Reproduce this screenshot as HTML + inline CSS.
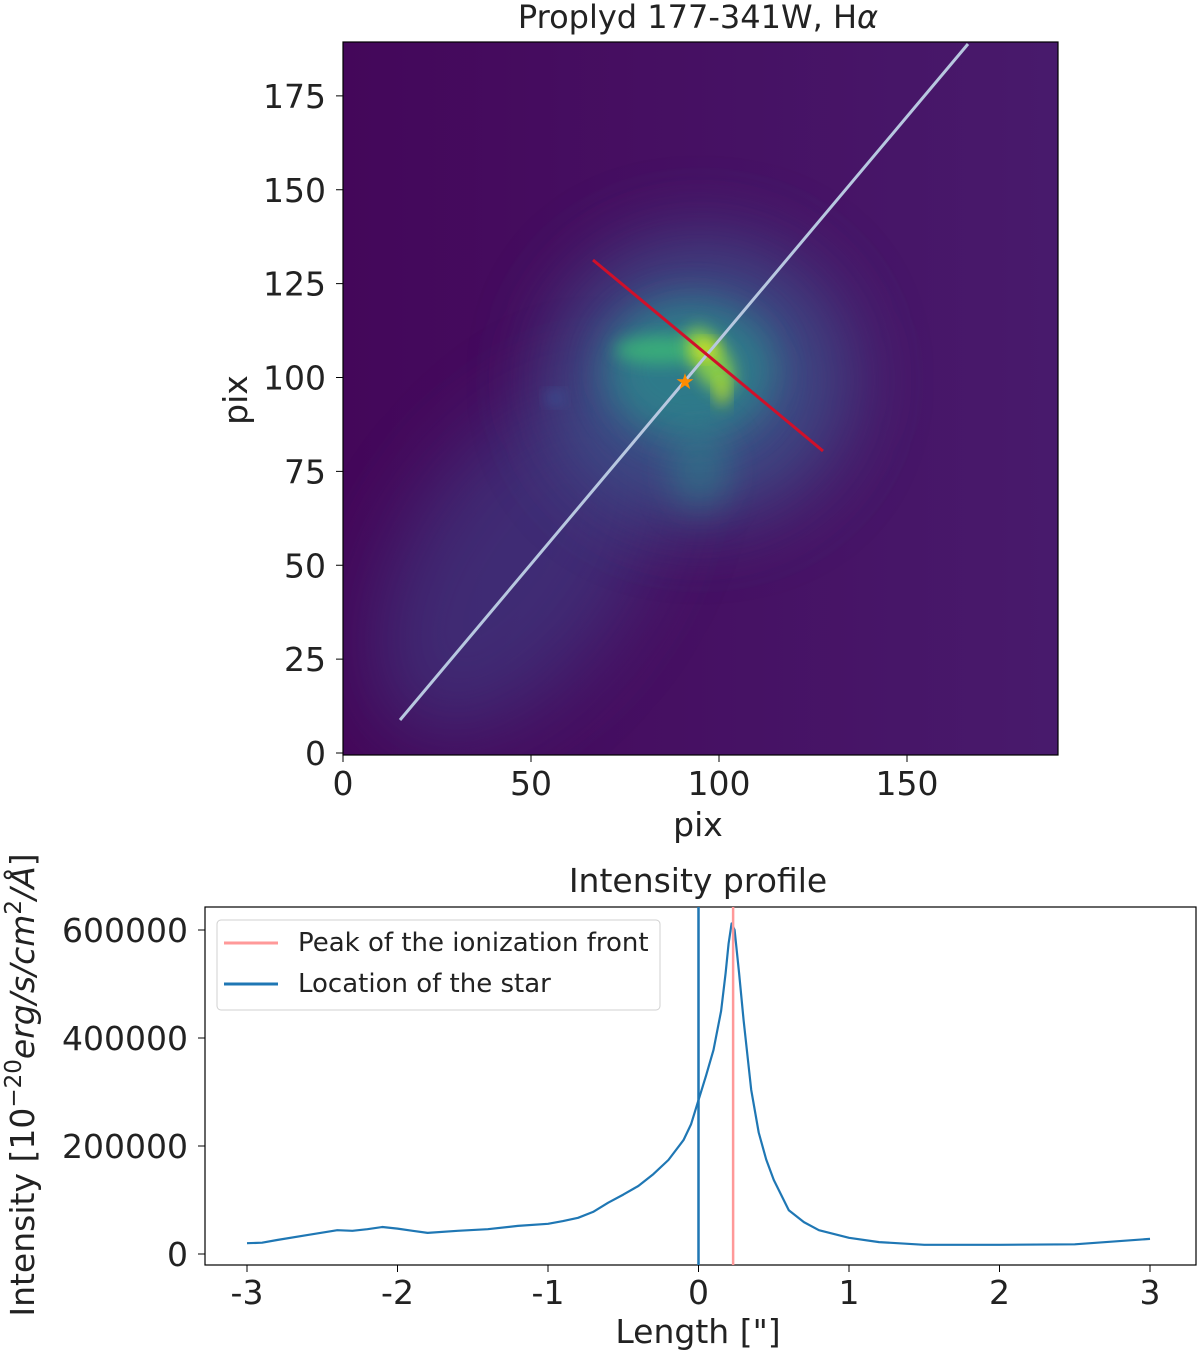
<!DOCTYPE html>
<html><head><meta charset="utf-8"><style>
body{margin:0;background:#fff;font-family:"Liberation Sans","DejaVu Sans",sans-serif;}
svg text{font-family:"DejaVu Sans","Liberation Sans",sans-serif;fill:#222;}
</style></head><body>
<svg id="fig" width="1200" height="1354" xmlns="http://www.w3.org/2000/svg">
<defs>
<filter id="b1" x="-50%" y="-50%" width="200%" height="200%"><feGaussianBlur stdDeviation="18"/></filter>
<filter id="b2" x="-50%" y="-50%" width="200%" height="200%"><feGaussianBlur stdDeviation="8"/></filter>
<filter id="b3" x="-50%" y="-50%" width="200%" height="200%"><feGaussianBlur stdDeviation="40"/></filter>
<linearGradient id="bg" x1="0" y1="0" x2="1" y2="0"><stop offset="0" stop-color="#44075a"/><stop offset="1" stop-color="#481a6c"/></linearGradient>
<clipPath id="imclip"><rect x="343" y="42" width="715" height="713"/></clipPath>
</defs>
<text x="698" y="28" font-size="32" text-anchor="middle">Proplyd 177-341W, H<tspan font-style="italic">α</tspan></text>
<g clip-path="url(#imclip)">
<rect x="343" y="42" width="715" height="713" fill="url(#bg)"/>
<ellipse cx="520" cy="560" rx="110" ry="200" transform="rotate(35 520 560)" fill="#3a4b8a" opacity="0.5" filter="url(#b3)"/>
<ellipse cx="700" cy="380" rx="150" ry="140" fill="#3b5a8c" opacity="0.8" filter="url(#b3)"/>
<ellipse cx="690" cy="370" rx="85" ry="70" fill="#2a8a8c" opacity="0.75" filter="url(#b1)"/>
<ellipse cx="700" cy="470" rx="30" ry="40" fill="#2a8a8c" opacity="0.5" filter="url(#b1)"/>
<ellipse cx="660" cy="350" rx="45" ry="14" fill="#3cbc74" opacity="0.75" filter="url(#b2)"/>
<ellipse cx="710" cy="360" rx="18" ry="36" transform="rotate(-30 710 360)" fill="#8fd344" opacity="0.9" filter="url(#b2)"/>
<ellipse cx="705" cy="350" rx="11" ry="8" fill="#e3e418" filter="url(#b2)"/>
<ellipse cx="722" cy="392" rx="6" ry="14" fill="#c2df23" opacity="0.9" filter="url(#b2)"/>
<ellipse cx="555" cy="398" rx="8" ry="6" fill="#3b5a9c" filter="url(#b2)"/>
<polyline points="400,720 968,44" stroke="#b8c8e0" stroke-width="3" fill="none"/>
<polyline points="593,260 823,451" stroke="#d0102a" stroke-width="3" fill="none"/>
<text x="685" y="389" font-size="22" fill="#ff8c00" text-anchor="middle" style="fill:#ff8c00">★</text>
</g>
<rect x="343" y="42" width="715" height="713" fill="none" stroke="#000" stroke-width="1.2"/>
<g id="imaxes" font-size="33"></g>
<text x="698" y="836" font-size="33" text-anchor="middle">pix</text>
<text x="0" y="0" font-size="33" text-anchor="middle" transform="translate(247 400) rotate(-90)">pix</text>

<text x="698" y="892" font-size="33" text-anchor="middle">Intensity profile</text>
<rect x="205" y="907" width="991" height="358" fill="none" stroke="#000" stroke-width="1.2"/>
<g id="plot"></g>
<g>
<rect x="217" y="920" width="443" height="90" rx="4" fill="#fff" stroke="#ccc" opacity="0.9"/>
<line x1="224" y1="943" x2="278" y2="943" stroke="#f99" stroke-width="3"/>
<text x="298" y="951" font-size="26">Peak of the ionization front</text>
<line x1="224" y1="984" x2="278" y2="984" stroke="#1f77b4" stroke-width="3"/>
<text x="298" y="992" font-size="26">Location of the star</text>
</g>
<text x="698" y="1343" font-size="33" text-anchor="middle">Length ["]</text>
<text font-size="33" text-anchor="middle" transform="translate(34 1085) rotate(-90)">Intensity [10<tspan baseline-shift="super" font-size="23">−20</tspan><tspan font-style="italic">erg/s/cm</tspan><tspan baseline-shift="super" font-size="23">2</tspan><tspan font-style="italic">/Å</tspan>]</text>
</svg>
<script>
const imgXTicks=[0,50,100,150];
const imgYTicks=[0,25,50,75,100,125,150,175];
const lengths=[-3,-2.9,-2.8,-2.6,-2.4,-2.3,-2.2,-2.1,-2.0,-1.9,-1.8,-1.6,-1.4,-1.2,-1.0,-0.9,-0.8,-0.7,-0.6,-0.5,-0.4,-0.3,-0.2,-0.1,-0.05,0,0.05,0.1,0.15,0.18,0.2,0.22,0.24,0.27,0.3,0.35,0.4,0.45,0.5,0.6,0.7,0.8,1.0,1.2,1.5,2.0,2.5,3.0];
const intensity=[20000,21000,26000,35000,44000,43000,46000,50000,47000,43000,39000,43000,46000,52000,56000,61000,67000,78000,95000,110000,126000,148000,174000,211000,240000,285000,330000,378000,450000,520000,575000,612000,600000,520000,433000,304000,225000,175000,137000,81000,59000,44000,30000,22000,17000,17000,18000,28000];
const xTicks=[-3,-2,-1,0,1,2,3];
const yTicks=[0,200000,400000,600000];
const starLoc=[0];
const peakLoc=[0.23];
const NS="http://www.w3.org/2000/svg";
function mk(t,a,p){const e=document.createElementNS(NS,t);for(const k in a)e.setAttribute(k,a[k]);p.appendChild(e);return e;}
const ix=v=>343+v*3.76, iy=v=>753-v*3.755;
const ia=document.getElementById('imaxes');
imgXTicks.forEach(v=>{const l=mk('line',{x1:ix(v),x2:ix(v),y1:755,y2:762,stroke:'#000'},ia);

const t=mk('text',{x:ix(v),y:795,'text-anchor':'middle'},ia);t.textContent=v;
});
imgYTicks.forEach(v=>{const l=mk('line',{x1:336,x2:343,y1:iy(v),y2:iy(v),stroke:'#000'},ia);

const t=mk('text',{x:326,y:iy(v)+12,'text-anchor':'end'},ia);t.textContent=v;
});
const px=v=>247+(v+3)*150.5, py=v=>1254-v*324/600000;
const g=document.getElementById('plot');g.setAttribute('font-size','33');
xTicks.forEach(v=>{const l=mk('line',{x1:px(v),x2:px(v),y1:1265,y2:1272,stroke:'#000'},g);

const t=mk('text',{x:px(v),y:1304,'text-anchor':'middle'},g);t.textContent=v;
});
yTicks.forEach(v=>{const l=mk('line',{x1:198,x2:205,y1:py(v),y2:py(v),stroke:'#000'},g);

const t=mk('text',{x:188,y:py(v)+12,'text-anchor':'end'},g);t.textContent=v;
});
const pts=lengths.map((L,i)=>px(L).toFixed(1)+','+py(intensity[i]).toFixed(1)).join(' ');
const line=mk('polyline',{points:pts,fill:'none',stroke:'#1f77b4','stroke-width':2.2,'stroke-linejoin':'round'},g);

starLoc.forEach(v=>{const l=mk('line',{x1:px(v),x2:px(v),y1:907,y2:1265,stroke:'#1f77b4','stroke-width':2.5},g);
});
peakLoc.forEach(v=>{const l=mk('line',{x1:px(v),x2:px(v),y1:907,y2:1265,stroke:'#f99','stroke-width':2.5},g);
});
</script>
</body></html>
